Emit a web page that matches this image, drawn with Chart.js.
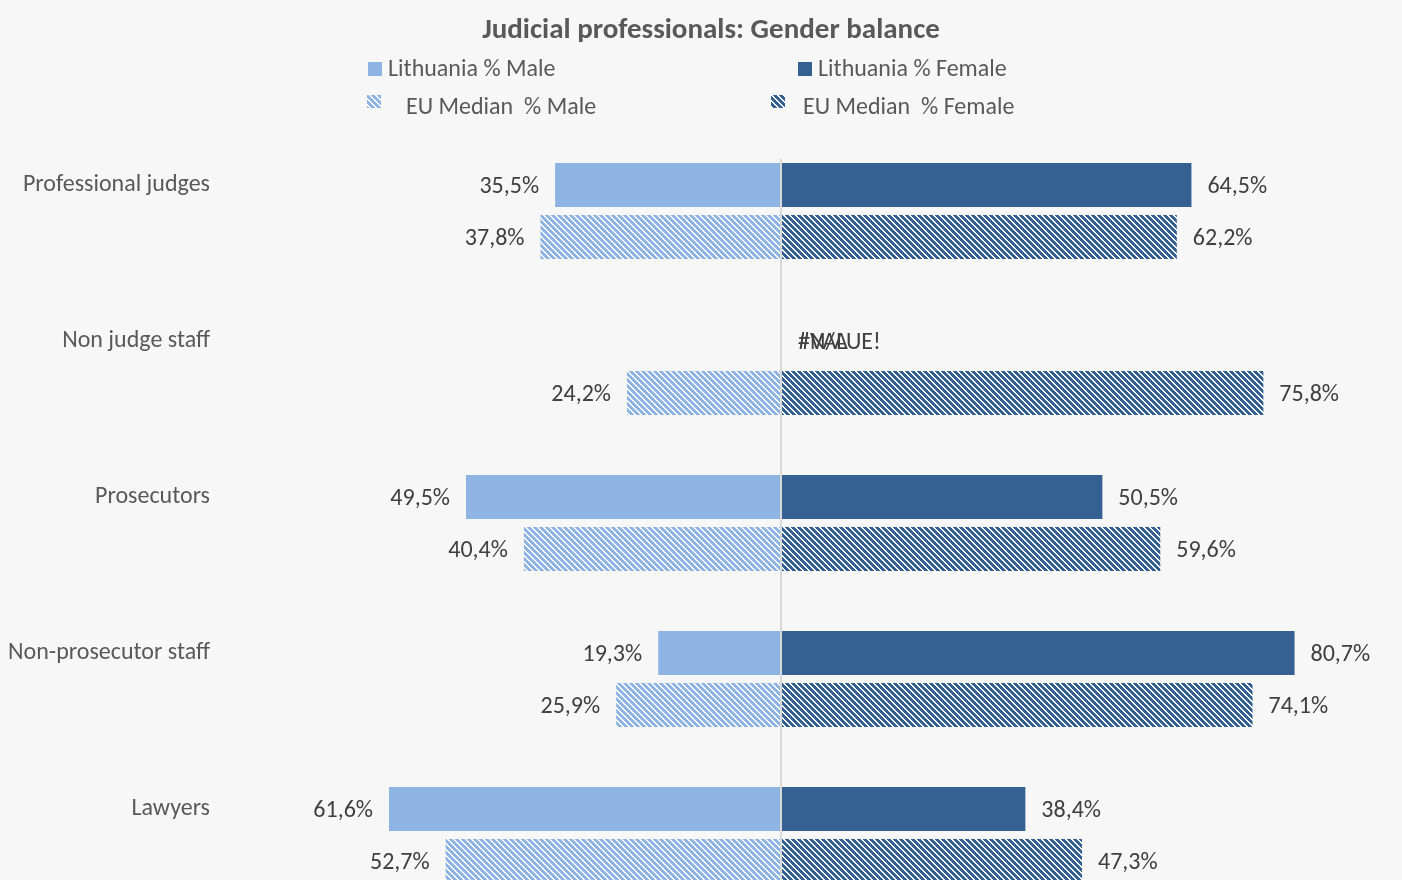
<!DOCTYPE html>
<html>
<head>
<meta charset="utf-8">
<script src="https://cdn.jsdelivr.net/npm/chart.js@4/dist/chart.umd.min.js"></script>
<style>
  html, body { margin: 0; padding: 0; background: #f7f7f7; overflow: hidden; width: 1402px; height: 880px; }
  canvas { display: block; }
</style>
</head>
<body>
<canvas id="c" width="1402" height="940"></canvas>
<script>
// ---- Data ----
const chartTitle = 'Judicial professionals: Gender balance';
const categories = ['Professional judges', 'Non judge staff', 'Prosecutors', 'Non-prosecutor staff', 'Lawyers'];
const ltMale   = [35.5, null, 49.5, 19.3, 61.6];
const ltFemale = [64.5, null, 50.5, 80.7, 38.4];
const euMale   = [37.8, 24.2, 40.4, 25.9, 52.7];
const euFemale = [62.2, 75.8, 59.6, 74.1, 47.3];
const ltMissingTexts = ['#N/A', '#VALUE!'];
const seriesNames = ['Lithuania % Male', 'Lithuania % Female', 'EU Median  % Male', 'EU Median  % Female'];

// ---- Styles ----
const FONT = 'Calibri, Carlito, Lato, "Open Sans", sans-serif';
const MALE = '#8eb4e3';
const FEMALE = '#356092';
const BG = '#f7f7f7';

function hatch(color) {
  const s = 6;
  const cv = document.createElement('canvas');
  cv.width = s; cv.height = s;
  const cx = cv.getContext('2d');
  cx.fillStyle = '#ffffff';
  cx.fillRect(0, 0, s, s);
  cx.fillStyle = color;
  for (let y = 0; y < s; y++) {
    for (let x = 0; x < s; x++) {
      const d = (((x - y) % s) + s) % s;
      if (d < 3.4) cx.fillRect(x, y, 1, 1);
    }
  }
  return cx.createPattern(cv, 'repeat');
}
const ctx = document.getElementById('c').getContext('2d');
const MALE_H = hatch(MALE);
const FEMALE_H = hatch(FEMALE);

// ---- Build rows (Lithuania row, EU row, blank row per category) ----
const rowLabels = [];
const dLtM = [], dLtF = [], dEuM = [], dEuF = [];
categories.forEach((c, i) => {
  rowLabels.push(c, '', '');
  dLtM.push(ltMale[i] == null ? null : -ltMale[i], null, null);
  dLtF.push(ltFemale[i], null, null);
  dEuM.push(null, -euMale[i], null);
  dEuF.push(null, euFemale[i], null);
});

const fmt = v => Math.abs(v).toFixed(1).replace('.', ',') + '%';

const bgPlugin = {
  id: 'bg',
  beforeDraw(chart) {
    const c = chart.ctx;
    c.save(); c.fillStyle = BG; c.fillRect(0, 0, chart.width, chart.height); c.restore();
  }
};

const zeroLine = {
  id: 'zeroLine',
  afterDatasetsDraw(chart) {
    const x = chart.scales.x.getPixelForValue(0);
    const c = chart.ctx;
    c.save();
    c.strokeStyle = '#d9d9d9';
    c.lineWidth = 2;
    c.beginPath();
    c.moveTo(x, chart.chartArea.top);
    c.lineTo(x, chart.chartArea.bottom);
    c.stroke();
    c.restore();
  }
};

const valueLabels = {
  id: 'valueLabels',
  afterDatasetsDraw(chart) {
    const c = chart.ctx;
    c.save();
    c.font = '24px ' + FONT;
    c.fillStyle = '#404040';
    c.textBaseline = 'middle';
    chart.data.datasets.forEach((ds, di) => {
      const meta = chart.getDatasetMeta(di);
      meta.data.forEach((el, i) => {
        const v = ds.data[i];
        if (v == null) return;
        if (v < 0) { c.textAlign = 'right'; c.fillText(fmt(v), el.x - 16, el.y + 2); }
        else { c.textAlign = 'left'; c.fillText(fmt(v), el.x + 16, el.y + 2); }
      });
    });
    // Missing Lithuania values show spreadsheet error texts at zero
    const x0 = chart.scales.x.getPixelForValue(0);
    categories.forEach((cat, i) => {
      if (ltMale[i] == null || ltFemale[i] == null) {
        const y = chart.scales.y.getPixelForValue(i * 3);
        c.textAlign = 'left';
        ltMissingTexts.forEach(t => c.fillText(t, x0 + 17, y + 2));
      }
    });
    c.restore();
  }
};

const titleAndLegend = {
  id: 'titleAndLegend',
  afterDraw(chart) {
    const c = chart.ctx;
    c.save();
    c.textBaseline = 'middle';
    c.font = 'bold 29px ' + FONT;
    c.fillStyle = '#595959';
    c.textAlign = 'center';
    c.fillText(chartTitle, 711, 31);
    c.font = '24px ' + FONT;
    c.textAlign = 'left';
    const items = [
      { fill: MALE,     bx: 368, by: 62, bw: 14, bh: 14, tx: 388, ty: 70 },
      { fill: FEMALE,   bx: 798, by: 62, bw: 14, bh: 14, tx: 818, ty: 70 },
      { fill: MALE_H,   bx: 367, by: 95, bw: 14, bh: 13, tx: 406, ty: 108 },
      { fill: FEMALE_H, bx: 771, by: 95, bw: 14, bh: 13, tx: 803, ty: 108 }
    ];
    items.forEach((it, k) => {
      c.fillStyle = it.fill;
      c.fillRect(it.bx, it.by, it.bw, it.bh);
      c.fillStyle = '#595959';
      c.fillText(seriesNames[k], it.tx, it.ty);
    });
    c.restore();
  }
};

new Chart(ctx, {
  type: 'bar',
  data: {
    labels: rowLabels,
    datasets: [
      { label: seriesNames[0], data: dLtM, backgroundColor: MALE },
      { label: seriesNames[1], data: dLtF, backgroundColor: FEMALE },
      { label: seriesNames[2], data: dEuM, backgroundColor: MALE_H },
      { label: seriesNames[3], data: dEuF, backgroundColor: FEMALE_H }
    ]
  },
  options: {
    indexAxis: 'y',
    responsive: false,
    animation: false,
    events: [],
    categoryPercentage: 1,
    barPercentage: 44 / 52,
    layout: { padding: { left: 0, right: 61, top: 159, bottom: 1 } },
    scales: {
      x: {
        stacked: true, min: -88, max: 88, display: false
      },
      y: {
        stacked: true,
        grid: { display: false, drawTicks: false },
        border: { display: false },
        ticks: {
          autoSkip: false, padding: 11, color: '#595959',
          font: { family: FONT, size: 24 }
        },
        afterFit(s) { s.width = 221; s.paddingTop = 0; s.paddingBottom = 0; }
      }
    },
    plugins: {
      legend: { display: false },
      tooltip: { enabled: false },
      title: { display: false }
    }
  },
  plugins: [bgPlugin, zeroLine, valueLabels, titleAndLegend]
});
</script>
</body>
</html>
